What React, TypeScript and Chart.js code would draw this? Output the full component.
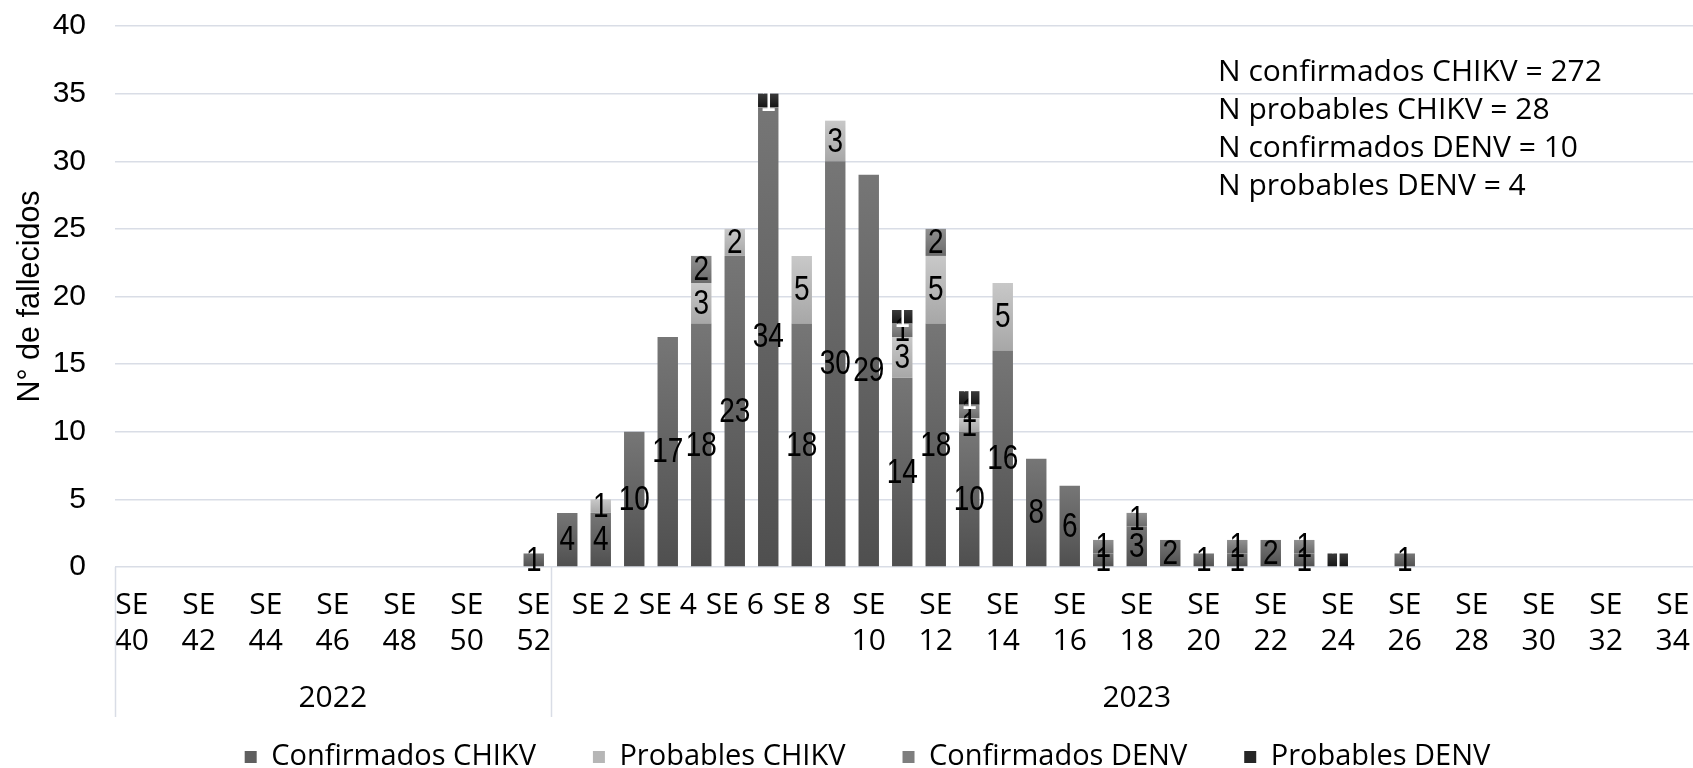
import { useEffect, useRef } from 'react';
import { Chart, registerables } from 'chart.js';

Chart.register(...registerables);

// ---------- data ----------
const weeks2022 = [40, 41, 42, 43, 44, 45, 46, 47, 48, 49, 50, 51, 52];
const weeks2023 = [1, 2, 3, 4, 5, 6, 7, 8, 9, 10, 11, 12, 13, 14, 15, 16, 17, 18, 19, 20, 21, 22, 23, 24, 25, 26, 27, 28, 29, 30, 31, 32, 33, 34, 35];
const years = ['2022', '2023'];

// 2022 SE40..SE52, then 2023 SE1..SE35
const confirmadosCHIKV = [
  0, 0, 0, 0, 0, 0, 0, 0, 0, 0, 0, 0, 1,
  4, 4, 10, 17, 18, 23, 34, 18, 30, 29, 14, 18, 10, 16, 8, 6, 1, 3, 2, 1, 1, 2, 1, 0, 0, 1,
  0, 0, 0, 0, 0, 0, 0, 0, 0,
];
const probablesCHIKV = [
  0, 0, 0, 0, 0, 0, 0, 0, 0, 0, 0, 0, 0,
  0, 1, 0, 0, 3, 2, 0, 5, 3, 0, 3, 5, 1, 5, 0, 0, 0, 0, 0, 0, 0, 0, 0, 0, 0, 0,
  0, 0, 0, 0, 0, 0, 0, 0, 0,
];
const confirmadosDENV = [
  0, 0, 0, 0, 0, 0, 0, 0, 0, 0, 0, 0, 0,
  0, 0, 0, 0, 2, 0, 0, 0, 0, 0, 1, 2, 1, 0, 0, 0, 1, 1, 0, 0, 1, 0, 1, 0, 0, 0,
  0, 0, 0, 0, 0, 0, 0, 0, 0,
];
const probablesDENV = [
  0, 0, 0, 0, 0, 0, 0, 0, 0, 0, 0, 0, 0,
  0, 0, 0, 0, 0, 0, 1, 0, 0, 0, 1, 0, 1, 0, 0, 0, 0, 0, 0, 0, 0, 0, 0, 1, 0, 0,
  0, 0, 0, 0, 0, 0, 0, 0, 0,
];

const seriesNames = ['Confirmados CHIKV', 'Probables CHIKV', 'Confirmados DENV', 'Probables DENV'];
const summaryLines = [
  'N confirmados CHIKV = 272',
  'N probables CHIKV = 28',
  'N confirmados DENV = 10',
  'N probables DENV = 4',
];
const yTitle = 'N° de fallecidos';

// ---------- styles ----------
const ARIAL = "'Liberation Sans', Arial, sans-serif";
const GOTHIC = "'Open Sans', 'Noto Sans', sans-serif";
const GRID = '#d9dde6';
const CANVAS_SHIFT = 21; // canvas is moved up so the plot top sits where the reference has it
const LEGEND_SHIFT = 6;

const gradients = [
  ['#767676', '#4f4f4f'],
  ['#c8c8c8', '#a7a7a7'],
  ['#909090', '#6b6b6b'],
  ['#3a3a3a', '#151515'],
];
const solids = ['#5f5f5f', '#b6b6b6', '#7e7e7e', '#262626'];
const labelColors = ['#000', '#000', '#000', '#fff'];

const series = [confirmadosCHIKV, probablesCHIKV, confirmadosDENV, probablesDENV];
const weekLabels = [...weeks2022, ...weeks2023];
const categories = weekLabels.map((w) => 'SE ' + w);
const tickLabels = weekLabels.map((w, i) =>
  i % 2 ? '' : w >= 10 ? ['SE', String(w)] : 'SE ' + w
);
const groupSizes = [weeks2022.length, weeks2023.length];

function segFill(di: number) {
  return (ctx: any) => {
    const [top, bot] = gradients[di];
    if (ctx.type !== 'data') return solids[di];
    const chart = ctx.chart;
    const y = chart.scales && chart.scales.y;
    if (!y || !chart.chartArea) return solids[di];
    const i = ctx.dataIndex;
    let start = 0;
    for (let k = 0; k < di; k++) start += series[k][i] || 0;
    const v = series[di][i] || 0;
    const p0 = y.getPixelForValue(start + v);
    const p1 = y.getPixelForValue(start);
    if (!isFinite(p0) || !isFinite(p1) || Math.abs(p1 - p0) < 0.5) return solids[di];
    const g = chart.ctx.createLinearGradient(0, p0, 0, p1);
    g.addColorStop(0, top);
    g.addColorStop(1, bot);
    return g;
  };
}

const barLabels = {
  id: 'barLabels',
  afterDatasetsDraw(chart: any) {
    const ctx = chart.ctx;
    chart.data.datasets.forEach((ds: any, di: number) => {
      const meta = chart.getDatasetMeta(di);
      meta.data.forEach((bar: any, i: number) => {
        const v = ds.data[i];
        if (!v) return;
        const { x, y, base } = bar.getProps(['x', 'y', 'base'], true);
        ctx.save();
        ctx.translate(x, (y + base) / 2 + 1);
        ctx.scale(0.8, 1);
        ctx.font = `35px ${ARIAL}`;
        ctx.textAlign = 'center';
        ctx.textBaseline = 'middle';
        ctx.fillStyle = labelColors[di];
        ctx.fillText(String(v), 0, 0);
        ctx.restore();
      });
    });
  },
};

const legendShift = {
  id: 'legendShift',
  afterLayout(chart: any) {
    if (chart.legend) {
      chart.legend.left += LEGEND_SHIFT;
      chart.legend.right += LEGEND_SHIFT;
    }
  },
};

const groupAxis = {
  id: 'groupAxis',
  afterDraw(chart: any) {
    const { ctx, chartArea } = chart;
    const x = chart.scales.x;
    const half = (x.getPixelForValue(1) - x.getPixelForValue(0)) / 2;
    ctx.save();
    ctx.strokeStyle = GRID;
    ctx.lineWidth = 1.5;
    ctx.fillStyle = '#000';
    ctx.font = `30px ${GOTHIC}`;
    ctx.textAlign = 'center';
    ctx.textBaseline = 'middle';
    let startIdx = 0;
    const edges: number[] = [x.getPixelForValue(0) - half];
    groupSizes.forEach((n, gi) => {
      const endIdx = startIdx + n - 1;
      const l = x.getPixelForValue(startIdx) - half;
      const r = x.getPixelForValue(endIdx) + half;
      edges.push(r);
      ctx.fillText(years[gi], (l + r) / 2, chartArea.bottom + 131);
      startIdx += n;
    });
    edges.forEach((ex) => {
      ctx.beginPath();
      ctx.moveTo(Math.round(ex) + 0.5, chartArea.bottom);
      ctx.lineTo(Math.round(ex) + 0.5, chartArea.bottom + 150);
      ctx.stroke();
    });
    // summary text
    ctx.textAlign = 'left';
    ctx.textBaseline = 'alphabetic';
    ctx.font = `30px ${GOTHIC}`;
    summaryLines.forEach((t, i) => {
      ctx.fillText(t, 1218, CANVAS_SHIFT + 81 + i * 38);
    });
    ctx.restore();
  },
};

export default function App() {
  const ref = useRef<HTMLCanvasElement>(null);
  useEffect(() => {
    const canvas = ref.current;
    if (!canvas) return;
    const chart = new Chart(canvas, {
      type: 'bar',
      data: {
        labels: categories,
        datasets: series.map((d, di) => ({
          label: seriesNames[di],
          data: d,
          backgroundColor: segFill(di) as any,
          borderWidth: 0,
          barPercentage: 0.61,
          categoryPercentage: 1,
        })),
      },
      options: {
        animation: false,
        responsive: false,
        devicePixelRatio: 1,
        layout: { padding: { top: 20, right: 17, left: 0, bottom: 12.5 } },
        plugins: {
          tooltip: { enabled: false },
          legend: {
            position: 'bottom',
            labels: {
              color: '#000',
              font: { family: GOTHIC, size: 29 },
              boxWidth: 12,
              boxHeight: 12,
              padding: 57,
              generateLabels: (chart: any) =>
                chart.data.datasets.map((ds: any, di: number) => ({
                  text: ds.label,
                  fillStyle: solids[di],
                  strokeStyle: solids[di],
                  lineWidth: 0,
                  hidden: false,
                  datasetIndex: di,
                  fontColor: '#000',
                })),
            },
          },
        },
        scales: {
          x: {
            stacked: true,
            grid: { display: false, drawTicks: false },
            border: { display: false },
            ticks: {
              autoSkip: false,
              maxRotation: 0,
              minRotation: 0,
              padding: 20,
              color: '#000',
              font: { family: GOTHIC, size: 30, lineHeight: 1.2 },
              callback: (_v: any, i: number) => tickLabels[i],
            },
            afterFit: (s: any) => {
              s.height = 118.5;
            },
          },
          y: {
            stacked: true,
            min: 0,
            max: 40,
            ticks: { stepSize: 5, padding: 29, color: '#000', font: { family: ARIAL, size: 30 } },
            grid: { color: GRID, lineWidth: 1.5, drawTicks: false },
            border: { display: false },
            title: {
              display: true,
              text: yTitle,
              color: '#000',
              font: { family: ARIAL, size: 30.5 },
              padding: { top: 12, bottom: 0 },
            },
            afterFit: (s: any) => {
              s.width = 115;
            },
          },
        },
      },
      plugins: [barLabels, legendShift, groupAxis],
    } as any);
    return () => chart.destroy();
  }, []);
  return (
    <div
      style={{
        position: 'fixed',
        left: 0,
        top: 0,
        width: 1693,
        height: 768,
        overflow: 'hidden',
        background: '#fff',
      }}
    >
      <canvas
        ref={ref}
        width={1740}
        height={815}
        style={{ display: 'block', position: 'relative', top: -CANVAS_SHIFT }}
      />
    </div>
  );
}
